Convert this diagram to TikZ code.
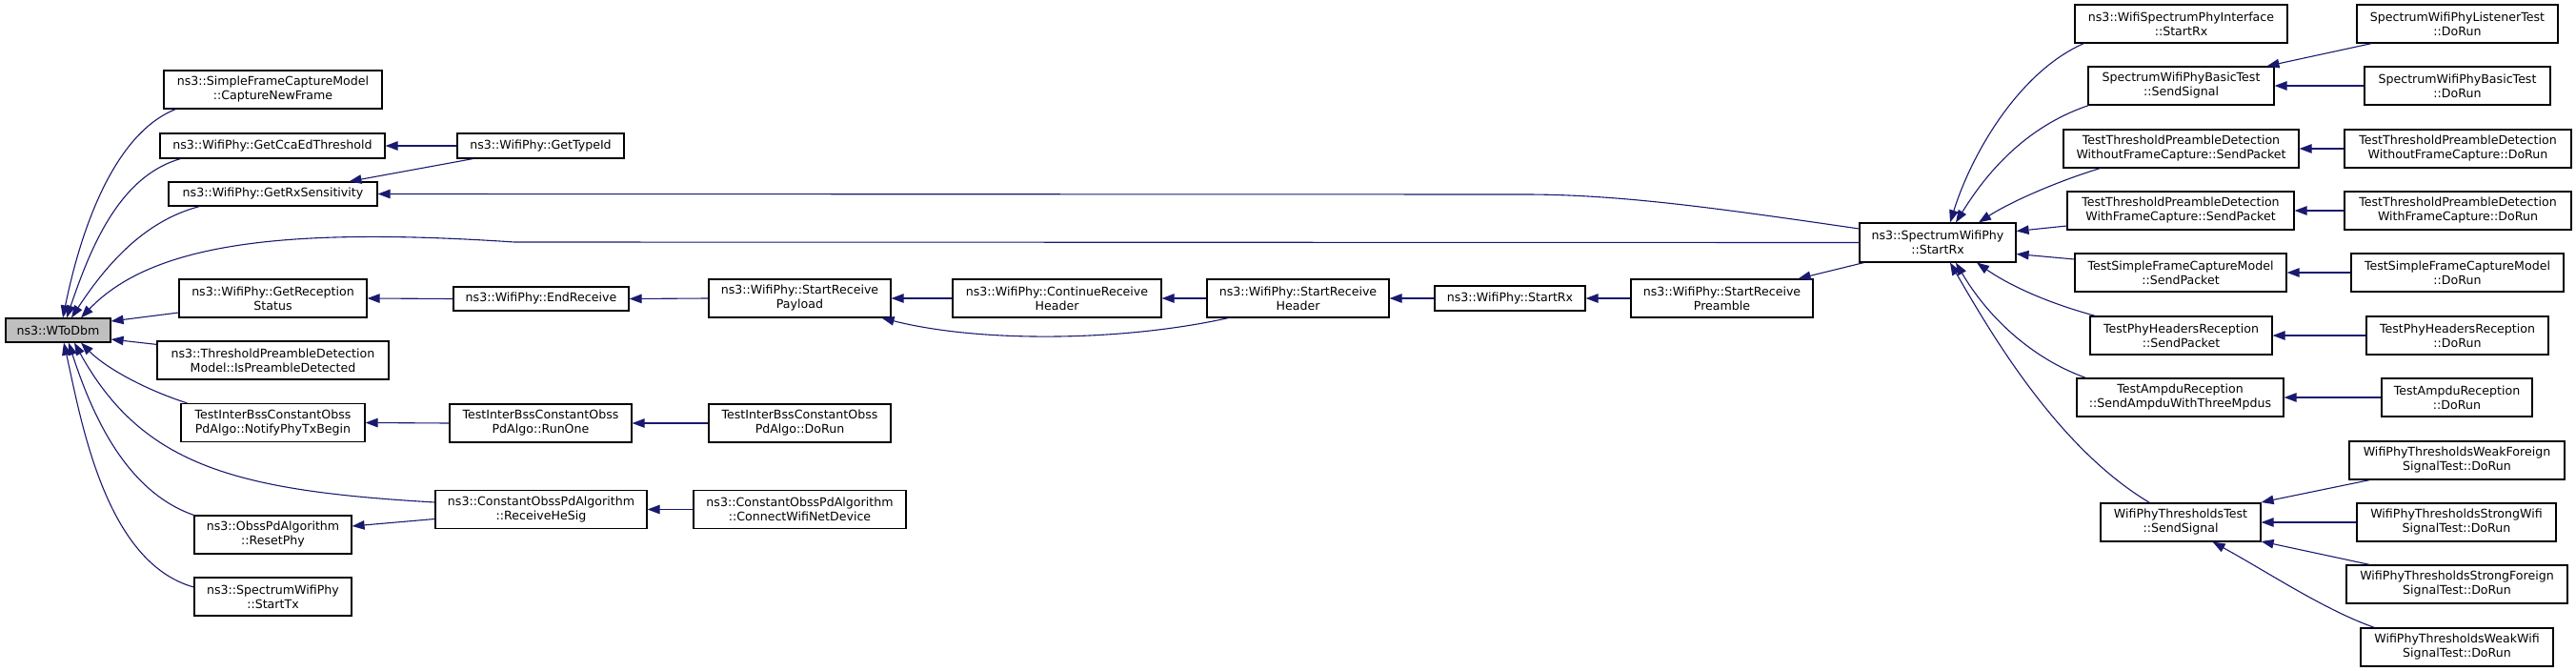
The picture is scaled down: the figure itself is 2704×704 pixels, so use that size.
\documentclass[tikz,border=0pt]{standalone}
\usepackage{fontspec}
\setmainfont{DejaVu Sans}
\usetikzlibrary{arrows.meta}

\definecolor{azulnoche}{HTML}{191970}
\definecolor{grisraiz}{HTML}{BFBFBF}

\tikzset{
  caja/.style={draw=black, line width=1.2pt, fill=white, inner sep=0pt,
    align=center, font=\fontsize{12.6}{15}\selectfont},
  raiz/.style={caja, fill=grisraiz},
  llamada/.style={draw=azulnoche, line width=1.1pt,
    -{Triangle[length=13pt,width=9.5pt]}}
}

\begin{document}
\begin{tikzpicture}[x=1pt,y=-1pt]
% El marco fija el tamaño del dibujo
\useasboundingbox (0,0) rectangle (2704,704);

% La función de la que salen todas las llamadas
\node[raiz, minimum width=110pt, minimum height=25pt] (wtodbm) at (61,346.5) {ns3::WToDbm};

% Primera columna
\node[caja, minimum width=229pt, minimum height=40pt] (simple) at (286.5,94) {ns3::SimpleFrameCaptureModel\\::CaptureNewFrame};
\node[caja, minimum width=236pt, minimum height=26pt] (cca) at (286,153) {ns3::WifiPhy::GetCcaEdThreshold};
\node[caja, minimum width=219pt, minimum height=25pt] (rxsens) at (286.5,203.5) {ns3::WifiPhy::GetRxSensitivity};
\node[caja, minimum width=197pt, minimum height=40pt] (recstatus) at (286.5,313) {ns3::WifiPhy::GetReception\\Status};
\node[caja, minimum width=243pt, minimum height=40pt] (preambdet) at (286.5,378) {ns3::ThresholdPreambleDetection\\Model::IsPreambleDetected};
\node[caja, minimum width=193pt, minimum height=40pt] (notify) at (286.5,443.5) {TestInterBssConstantObss\\PdAlgo::NotifyPhyTxBegin};
\node[caja, minimum width=165pt, minimum height=40pt] (resetphy) at (286.5,561) {ns3::ObssPdAlgorithm\\::ResetPhy};
\node[caja, minimum width=165pt, minimum height=40pt] (starttx) at (286.5,626) {ns3::SpectrumWifiPhy\\::StartTx};

% Segunda y tercera columna
\node[caja, minimum width=175pt, minimum height=26pt] (typeid) at (567.5,153) {ns3::WifiPhy::GetTypeId};
\node[caja, minimum width=184pt, minimum height=25pt] (endrecv) at (568,313.5) {ns3::WifiPhy::EndReceive};
\node[caja, minimum width=191pt, minimum height=40pt] (runone) at (567.5,444) {TestInterBssConstantObss\\PdAlgo::RunOne};
\node[caja, minimum width=222pt, minimum height=40pt] (hesig) at (568,534.5) {ns3::ConstantObssPdAlgorithm\\::ReceiveHeSig};
\node[caja, minimum width=191pt, minimum height=40pt] (payload) at (839.5,313) {ns3::WifiPhy::StartReceive\\Payload};
\node[caja, minimum width=191pt, minimum height=40pt] (interdorun) at (839.5,444) {TestInterBssConstantObss\\PdAlgo::DoRun};
\node[caja, minimum width=223pt, minimum height=40pt] (connect) at (839.5,534.5) {ns3::ConstantObssPdAlgorithm\\::ConnectWifiNetDevice};

% La cadena de recepción
\node[caja, minimum width=219pt, minimum height=40pt] (conthdr) at (1109.5,313) {ns3::WifiPhy::ContinueReceive\\Header};
\node[caja, minimum width=191pt, minimum height=40pt] (starthdr) at (1362.5,313) {ns3::WifiPhy::StartReceive\\Header};
\node[caja, minimum width=158pt, minimum height=26pt] (phystartrx) at (1585,313) {ns3::WifiPhy::StartRx};
\node[caja, minimum width=191pt, minimum height=40pt] (preamble) at (1807.5,313) {ns3::WifiPhy::StartReceive\\Preamble};
\node[caja, minimum width=164pt, minimum height=41pt] (specrx) at (2034,254.5) {ns3::SpectrumWifiPhy\\::StartRx};

% Los que llaman a SpectrumWifiPhy::StartRx
\node[caja, minimum width=223pt, minimum height=40pt] (ifacerx) at (2289.5,25) {ns3::WifiSpectrumPhyInterface\\::StartRx};
\node[caja, minimum width=195pt, minimum height=40pt] (basicsend) at (2289.5,90) {SpectrumWifiPhyBasicTest\\::SendSignal};
\node[caja, minimum width=247pt, minimum height=40pt] (wofcsend) at (2289.5,156) {TestThresholdPreambleDetection\\WithoutFrameCapture::SendPacket};
\node[caja, minimum width=238pt, minimum height=40pt] (wfcsend) at (2289,221) {TestThresholdPreambleDetection\\WithFrameCapture::SendPacket};
\node[caja, minimum width=222pt, minimum height=40pt] (simplesend) at (2289,286) {TestSimpleFrameCaptureModel\\::SendPacket};
\node[caja, minimum width=191pt, minimum height=40pt] (hdrsend) at (2289.5,352) {TestPhyHeadersReception\\::SendPacket};
\node[caja, minimum width=217pt, minimum height=40pt] (ampdusend) at (2288.5,417) {TestAmpduReception\\::SendAmpduWithThreeMpdus};
\node[caja, minimum width=168pt, minimum height=40pt] (thrsend) at (2289,548) {WifiPhyThresholdsTest\\::SendSignal};

% Última columna: los DoRun
\node[caja, minimum width=211pt, minimum height=40pt] (listener) at (2579.5,25) {SpectrumWifiPhyListenerTest\\::DoRun};
\node[caja, minimum width=195pt, minimum height=40pt] (basicrun) at (2579.5,90) {SpectrumWifiPhyBasicTest\\::DoRun};
\node[caja, minimum width=238pt, minimum height=40pt] (wofcrun) at (2580,156) {TestThresholdPreambleDetection\\WithoutFrameCapture::DoRun};
\node[caja, minimum width=238pt, minimum height=40pt] (wfcrun) at (2580,221) {TestThresholdPreambleDetection\\WithFrameCapture::DoRun};
\node[caja, minimum width=223pt, minimum height=40pt] (simplerun) at (2579.5,286) {TestSimpleFrameCaptureModel\\::DoRun};
\node[caja, minimum width=191pt, minimum height=40pt] (hdrrun) at (2579.5,352) {TestPhyHeadersReception\\::DoRun};
\node[caja, minimum width=158pt, minimum height=40pt] (ampdurun) at (2579,417) {TestAmpduReception\\::DoRun};
\node[caja, minimum width=226pt, minimum height=40pt] (weakfor) at (2579,483) {WifiPhyThresholdsWeakForeign\\SignalTest::DoRun};
\node[caja, minimum width=209pt, minimum height=40pt] (strongwifi) at (2578.5,548) {WifiPhyThresholdsStrongWifi\\SignalTest::DoRun};
\node[caja, minimum width=232pt, minimum height=40pt] (strongfor) at (2579,613) {WifiPhyThresholdsStrongForeign\\SignalTest::DoRun};
\node[caja, minimum width=202pt, minimum height=40pt] (weakwifi) at (2579,679) {WifiPhyThresholdsWeakWifi\\SignalTest::DoRun};

% Las llamadas que llegan a WToDbm
\draw[llamada] ([xshift=13pt]simple.south west) .. controls (120,140) and (85,240) .. ([xshift=5pt]wtodbm.north);
\draw[llamada] ([xshift=22pt]cca.south west) .. controls (125,185) and (95,260) .. ([xshift=9pt]wtodbm.north);
\draw[llamada] ([xshift=33pt]rxsens.south west) .. controls (150,232) and (110,280) .. ([xshift=14pt]wtodbm.north);
\draw[llamada] (specrx.west) -- (540,254) .. controls (300,238) and (160,255) .. ([xshift=24pt]wtodbm.north);
\draw[llamada] ([yshift=-15pt]recstatus.west) -- ([yshift=9.5pt]wtodbm.east);
\draw[llamada] ([yshift=-4pt]preambdet.north west) -- ([yshift=-9.5pt]wtodbm.east);
\draw[llamada] ([xshift=7pt]notify.north west) .. controls (150,408) and (110,385) .. ([xshift=24pt]wtodbm.south);
\draw[llamada] ([yshift=7.5pt]hesig.west) .. controls (250,515) and (150,490) .. ([xshift=17pt]wtodbm.south);
\draw[llamada] (resetphy.north west) .. controls (130,515) and (95,430) .. ([xshift=11pt]wtodbm.south);
\draw[llamada] ([yshift=10pt]starttx.west) .. controls (110,590) and (85,440) .. ([xshift=6pt]wtodbm.south);

% Llamadas de la parte media
\draw[llamada] (typeid.west) -- (cca.east);
\draw[llamada] ([xshift=17pt]typeid.south west) -- ([xshift=80pt]rxsens.north);
\draw[llamada] ([yshift=14.5pt]specrx.west) .. controls (1800,218) and (1700,204) .. (1600,204) -- (rxsens.east);
\draw[llamada] (endrecv.west) -- (recstatus.east);
\draw[llamada] (payload.west) -- (endrecv.east);
\draw[llamada] (conthdr.west) -- (payload.east);
\draw[llamada] ([xshift=23pt]starthdr.south west) .. controls (1180,358) and (1030,360) .. ([xshift=-10pt]payload.south east);
\draw[llamada] (starthdr.west) -- (conthdr.east);
\draw[llamada] (phystartrx.west) -- (starthdr.east);
\draw[llamada] (preamble.west) -- (phystartrx.east);
\draw[llamada] ([xshift=5pt]specrx.south west) -- ([xshift=-16pt]preamble.north east);
\draw[llamada] (runone.west) -- (notify.east);
\draw[llamada] (interdorun.west) -- (runone.east);
\draw[llamada] ([yshift=-10pt]hesig.west) -- ([yshift=9pt]resetphy.east);
\draw[llamada] (connect.west) -- (hesig.east);

% Llamadas a SpectrumWifiPhy::StartRx
\draw[llamada] ([xshift=10pt]ifacerx.south west) .. controls (2120,75) and (2070,160) .. ([xshift=13pt]specrx.north);
\draw[llamada] ([xshift=1pt]basicsend.south west) .. controls (2120,135) and (2080,190) .. ([xshift=19pt]specrx.north);
\draw[llamada] ([xshift=39pt]wofcsend.south west) .. controls (2160,190) and (2110,212) .. ([xshift=43pt]specrx.north);
\draw[llamada] ([yshift=-16pt]wfcsend.west) -- ([yshift=12pt]specrx.east);
\draw[llamada] ([yshift=14pt]simplesend.west) -- ([yshift=-12pt]specrx.east);
\draw[llamada] ([xshift=6pt]hdrsend.north west) .. controls (2150,318) and (2110,300) .. ([xshift=41pt]specrx.south);
\draw[llamada] ([xshift=10pt]ampdusend.north west) .. controls (2130,375) and (2085,330) .. ([xshift=19pt]specrx.south);
\draw[llamada] ([xshift=52pt]thrsend.north west) .. controls (2160,470) and (2090,350) .. ([xshift=13pt]specrx.south);

% Llamadas desde los DoRun
\draw[llamada] ([xshift=16pt]listener.south west) -- ([xshift=90pt]basicsend.north);
\draw[llamada] (basicrun.west) -- (basicsend.east);
\draw[llamada] (wofcrun.west) -- (wofcsend.east);
\draw[llamada] (wfcrun.west) -- (wfcsend.east);
\draw[llamada] (simplerun.west) -- (simplesend.east);
\draw[llamada] (hdrrun.west) -- (hdrsend.east);
\draw[llamada] (ampdurun.west) -- (ampdusend.east);
\draw[llamada] ([xshift=22pt]weakfor.south west) -- ([yshift=21pt]thrsend.east);
\draw[llamada] (strongwifi.west) -- (thrsend.east);
\draw[llamada] ([xshift=25pt]strongfor.north west) -- ([yshift=-20pt]thrsend.east);
\draw[llamada] ([xshift=15pt]weakwifi.north west) .. controls (2440,640) and (2380,600) .. ([xshift=-51pt]thrsend.south east);
\end{tikzpicture}
\end{document}
